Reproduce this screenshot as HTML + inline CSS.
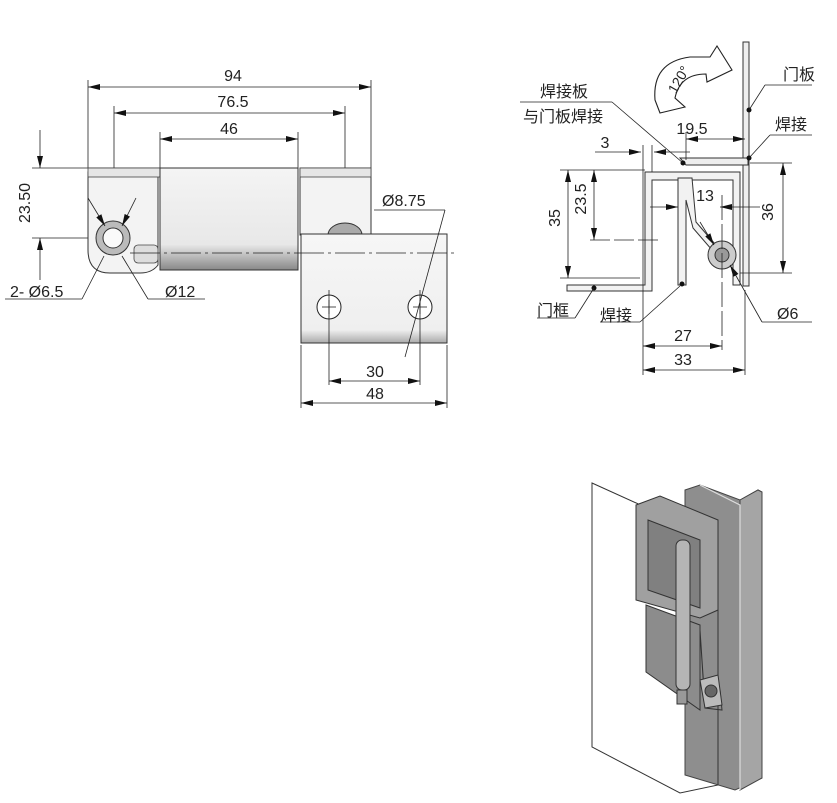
<!DOCTYPE html>
<html><head><meta charset="utf-8"><style>
body{margin:0;background:#fff}
svg{display:block}
text{font-family:"Liberation Sans","Noto Sans CJK SC",sans-serif;fill:#222}
</style></head><body>
<svg width="837" height="803" viewBox="0 0 837 803" xmlns="http://www.w3.org/2000/svg">
<defs>
<marker id="a" markerWidth="12" markerHeight="6" refX="12" refY="3" orient="auto-start-reverse" markerUnits="userSpaceOnUse"><path d="M0,0 L12,3 L0,6 Z" fill="#111"/></marker>
<linearGradient id="bar" x1="0" y1="0" x2="0" y2="1"><stop offset="0" stop-color="#f4f4f4"/><stop offset="0.75" stop-color="#e8e8e8"/><stop offset="1" stop-color="#888"/></linearGradient>
<linearGradient id="leaf" x1="0" y1="0" x2="0" y2="1"><stop offset="0" stop-color="#f6f6f6"/><stop offset="0.88" stop-color="#efefef"/><stop offset="1" stop-color="#aaa"/></linearGradient>
</defs>
<g stroke="#222" stroke-width="0.8" fill="none">
<line x1="88" y1="87" x2="371" y2="87" marker-start="url(#a)" marker-end="url(#a)"/>
<line x1="114" y1="113" x2="345" y2="113" marker-start="url(#a)" marker-end="url(#a)"/>
<line x1="160" y1="139" x2="298" y2="139" marker-start="url(#a)" marker-end="url(#a)"/>
<line x1="88" y1="80" x2="88" y2="168"/><line x1="371" y1="80" x2="371" y2="168"/>
<line x1="114" y1="106" x2="114" y2="270"/><line x1="345" y1="106" x2="345" y2="260"/>
<line x1="160" y1="132" x2="160" y2="168"/><line x1="298" y1="132" x2="298" y2="168"/>
<line x1="32" y1="168" x2="160" y2="168"/><line x1="32" y1="238" x2="90" y2="238"/>
<line x1="40" y1="130" x2="40" y2="168" marker-end="url(#a)"/>
<line x1="40" y1="238" x2="40" y2="280" marker-start="url(#a)"/>
</g>
<text x="30" y="203" font-size="16" text-anchor="middle" transform="rotate(-90 30 203)">23.50</text>
<text x="233" y="81" font-size="16" text-anchor="middle">94</text>
<text x="233" y="107" font-size="16" text-anchor="middle">76.5</text>
<text x="229" y="134" font-size="16" text-anchor="middle">46</text>
<path d="M88,172 L88,250 Q88,273 110,273 L140,273 Q152,273 158,265 L158,172 Z" fill="#f3f3f3" stroke="#333" stroke-width="1"/>
<rect x="88" y="168" width="72" height="9" fill="#e6e6e6" stroke="#444" stroke-width="0.8"/>
<path d="M300,168 L371,168 L371,235 L300,235 Z" fill="#f3f3f3" stroke="#333" stroke-width="1"/>
<rect x="300" y="168" width="71" height="9" fill="#e6e6e6" stroke="#444" stroke-width="0.8"/>
<rect x="160" y="168" width="138" height="102" fill="url(#bar)" stroke="#333" stroke-width="1"/>
<rect x="134" y="245" width="24" height="18" rx="4" fill="#ddd" stroke="#444" stroke-width="0.8"/>
<circle cx="113" cy="238" r="17" fill="#bbb" stroke="#333"/>
<circle cx="113" cy="238" r="10" fill="#fafafa" stroke="#333"/>
<path d="M328,235 a17,12 0 0 1 34,0 Z" fill="#aaa" stroke="#333"/>
<rect x="301" y="234" width="146" height="109" fill="url(#leaf)" stroke="#333" stroke-width="1"/>
<circle cx="329" cy="307" r="12" fill="#fff" stroke="#222"/>
<circle cx="420" cy="307" r="12" fill="#fff" stroke="#222"/>
<g stroke="#222" stroke-width="0.8" fill="none">
<line x1="322" y1="307" x2="336" y2="307"/><line x1="329" y1="300" x2="329" y2="314"/>
<line x1="413" y1="307" x2="427" y2="307"/><line x1="420" y1="300" x2="420" y2="314"/>
<line x1="130" y1="253" x2="457" y2="253" stroke-dasharray="30,4,3,4"/>
<line x1="329" y1="290" x2="329" y2="385"/><line x1="420" y1="290" x2="420" y2="385"/>
<line x1="301" y1="345" x2="301" y2="408"/><line x1="447" y1="345" x2="447" y2="408"/>
<line x1="329" y1="381" x2="420" y2="381" marker-start="url(#a)" marker-end="url(#a)"/>
<line x1="301" y1="403" x2="447" y2="403" marker-start="url(#a)" marker-end="url(#a)"/>
<line x1="374" y1="210" x2="445" y2="210"/><line x1="445" y1="210" x2="405" y2="357"/>
<line x1="5" y1="299" x2="82" y2="299"/><line x1="82" y1="299" x2="104" y2="256"/>
<line x1="205" y1="299" x2="148" y2="299"/><line x1="148" y1="299" x2="122" y2="256"/>
<line x1="88" y1="198" x2="105" y2="226" marker-end="url(#a)"/>
<line x1="136" y1="198" x2="122" y2="226" marker-end="url(#a)"/>
</g>
<text x="375" y="377" font-size="16" text-anchor="middle">30</text>
<text x="375" y="399" font-size="16" text-anchor="middle">48</text>
<text x="382" y="206" font-size="16">Ø8.75</text>
<text x="10" y="297" font-size="16">2- Ø6.5</text>
<text x="165" y="297" font-size="16">Ø12</text>
<!-- right side view -->
<path d="M660,113 L655,100 Q652,62 690,57 L710,57 L717,46 L732,70 L707,82 L706,74 Q680,74 675,98 L685,107 Z" fill="#fff" stroke="#222" stroke-width="1.1"/>
<text x="683" y="82" font-size="14" text-anchor="middle" transform="rotate(-60 683 82)">120°</text>
<rect x="743" y="42" width="6" height="244" fill="#eee" stroke="#333"/>
<path d="M645,172 L645,285 L567,285 L567,291 L652,291 L652,180 L733,180 L733,285 L740,285 L740,172 Z" fill="#f2f2f2" stroke="#333"/>
<path d="M680,158 L748,158 L748,165 L686,165 Z" fill="#eee" stroke="#333"/>
<path d="M678,178 L678,285 L686,285 L686,200 L693,228 L712,250 L715,244 L696,222 L692,178 Z" fill="#f2f2f2" stroke="#333"/>
<circle cx="722" cy="255" r="14" fill="#ccc" stroke="#333"/>
<circle cx="722" cy="255" r="7" fill="#999" stroke="#333"/>
<g fill="#111"><circle cx="749" cy="110" r="2.5"/><circle cx="749" cy="158" r="2.5"/><circle cx="683" cy="163" r="2.5"/><circle cx="682" cy="284" r="2.5"/><circle cx="594" cy="288" r="2.5"/></g>
<g stroke="#222" stroke-width="0.8" fill="none">
<line x1="765" y1="85" x2="812" y2="85"/><line x1="765" y1="85" x2="749" y2="110"/>
<line x1="770" y1="135" x2="812" y2="135"/><line x1="770" y1="135" x2="749" y2="158"/>
<line x1="520" y1="102" x2="612" y2="102"/><line x1="612" y1="102" x2="683" y2="163"/>
<line x1="686" y1="132" x2="686" y2="160"/>
<line x1="686" y1="139" x2="745" y2="139" marker-start="url(#a)" marker-end="url(#a)"/>
<line x1="595" y1="152" x2="641" y2="152" marker-end="url(#a)"/>
<line x1="654" y1="152" x2="690" y2="152" marker-start="url(#a)"/>
<line x1="643" y1="145" x2="643" y2="375"/><line x1="652" y1="145" x2="652" y2="172"/>
<line x1="560" y1="170" x2="645" y2="170"/><line x1="590" y1="240" x2="660" y2="240" stroke-dasharray="20,4"/>
<line x1="560" y1="278" x2="640" y2="278"/>
<line x1="568" y1="170" x2="568" y2="278" marker-start="url(#a)" marker-end="url(#a)"/>
<line x1="594" y1="170" x2="594" y2="240" marker-start="url(#a)" marker-end="url(#a)"/>
<line x1="750" y1="163" x2="792" y2="163"/><line x1="740" y1="273" x2="792" y2="273"/>
<line x1="783" y1="163" x2="783" y2="273" marker-start="url(#a)" marker-end="url(#a)"/>
<line x1="650" y1="207" x2="678" y2="207" marker-end="url(#a)"/>
<line x1="720" y1="207" x2="760" y2="207" marker-start="url(#a)"/>
<line x1="722" y1="195" x2="722" y2="350" stroke-dasharray="25,4"/>
<line x1="745" y1="290" x2="745" y2="375"/>
<line x1="643" y1="346" x2="722" y2="346" marker-start="url(#a)" marker-end="url(#a)"/>
<line x1="643" y1="370" x2="745" y2="370" marker-start="url(#a)" marker-end="url(#a)"/>
<line x1="700" y1="222" x2="714" y2="245" marker-end="url(#a)"/>
<line x1="744" y1="290" x2="730" y2="265" marker-end="url(#a)"/>
<line x1="744" y1="290" x2="762" y2="322"/><line x1="762" y1="322" x2="812" y2="322"/>
<line x1="537" y1="318" x2="575" y2="318"/><line x1="575" y1="318" x2="594" y2="288"/>
<line x1="600" y1="322" x2="640" y2="322"/><line x1="640" y1="322" x2="680" y2="286"/>
</g>
<text x="783" y="80" font-size="16">门板</text>
<text x="775" y="130" font-size="16">焊接</text>
<text x="540" y="97" font-size="16">焊接板</text>
<text x="523" y="122" font-size="16">与门板焊接</text>
<text x="692" y="134" font-size="16" text-anchor="middle">19.5</text>
<text x="605" y="148" font-size="16" text-anchor="middle">3</text>
<text x="566" y="224" font-size="16" text-anchor="middle" transform="rotate(-90 560 224)">35</text>
<text x="592" y="205" font-size="16" text-anchor="middle" transform="rotate(-90 586 205)">23.5</text>
<text x="779" y="218" font-size="16" text-anchor="middle" transform="rotate(-90 773 218)">36</text>
<text x="705" y="201" font-size="16" text-anchor="middle">13</text>
<text x="683" y="341" font-size="16" text-anchor="middle">27</text>
<text x="683" y="365" font-size="16" text-anchor="middle">33</text>
<text x="777" y="319" font-size="16">Ø6</text>
<text x="537" y="316" font-size="16">门框</text>
<text x="600" y="321" font-size="16">焊接</text>
<!-- 3D view -->
<path d="M685,490 L700,485 L740,500 L758,490 L762,492 L762,778 L735,790 L685,775 Z" fill="#8e8e8e" stroke="#444"/>
<path d="M740,500 L758,490 L762,492 L762,778 L740,790 Z" fill="#a5a5a5" stroke="#444"/>
<path d="M700,485 L740,505 L740,790" fill="none" stroke="#ddd" stroke-width="1.2"/>
<path d="M592,483 L718,540 L718,785 L680,793 L592,747 Z" fill="none" stroke="#333"/>
<path d="M636,505 L660,496 L718,520 L718,610 L700,618 L636,600 Z" fill="#a0a0a0" stroke="#333"/>
<path d="M648,520 L700,540 L700,608 L648,590 Z" fill="#808080" stroke="#333"/>
<path d="M646,605 L700,625 L700,710 L646,672 Z" fill="#8c8c8c" stroke="#333"/>
<path d="M700,630 L704,690 L720,690 L722,710 L705,708 Z" fill="none" stroke="#333"/>
<rect x="676" y="540" width="14" height="150" rx="6" fill="#b5b5b5" stroke="#333"/>
<path d="M700,680 L718,675 L722,705 L705,708 Z" fill="#bbb" stroke="#333"/>
<circle cx="711" cy="691" r="6" fill="#666" stroke="#333"/>
<rect x="677" y="690" width="10" height="14" fill="#999" stroke="#333"/>
</svg>
</body></html>
